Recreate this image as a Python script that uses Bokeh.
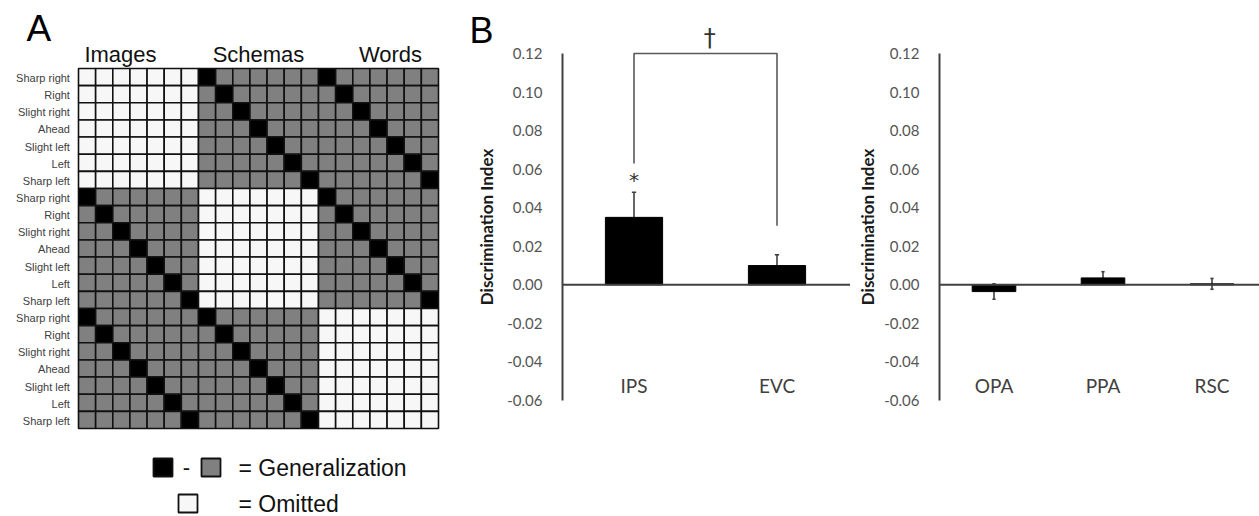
import numpy as np
from bokeh.plotting import figure
from bokeh.models import Range1d, LinearAxis, FixedTicker, PrintfTickFormatter, ColumnDataSource
from bokeh.layouts import row
from bokeh.core.properties import value
from bokeh.embed import file_html
from bokeh.resources import INLINE

# ---------------- data ----------------
formats = ["Images", "Schemas", "Words"]
directions = ["Sharp right", "Right", "Slight right", "Ahead", "Slight left", "Left", "Sharp left"]
legend_labels = ["= Generalization", "= Omitted"]

left_regions = ["IPS", "EVC"]
left_means = [0.035, 0.010]
left_sem = [0.013, 0.0056]

right_regions = ["OPA", "PPA", "RSC"]
right_means = [-0.0035, 0.0036, 0.0005]
right_sem = [0.0040, 0.0032, 0.0028]

y_ticks = [-0.06, -0.04, -0.02, 0.00, 0.02, 0.04, 0.06, 0.08, 0.10, 0.12]
sig_star = "*"
sig_trend = "\u2020"
y_label = "Discrimination Index"

H = 516

# ---------------- panel A : design matrix ----------------
ARIAL = value("Liberation Sans")
nd = len(directions)
n = len(formats) * nd
W_A = 460
cs = 360 / n                 # pixel size of a matrix cell
ox, oy = 78, 68              # matrix top-left in pixels


def px(xp):
    return (xp - ox) / cs


def py(yp):
    return (yp - oy) / cs


pA = figure(width=W_A, height=H, x_range=Range1d(px(0), px(W_A)), y_range=Range1d(py(H), py(0)),
            output_backend="svg", toolbar_location=None, min_border=0,
            x_axis_location=None, y_axis_location=None, outline_line_color=None)
pA.grid.visible = False

left, right, top, bottom, colors = [], [], [], [], []
for r in range(n):
    fr, dr = divmod(r, nd)
    for c in range(n):
        fc, dc = divmod(c, nd)
        if fr == fc:
            col = "#f7f7f7"
        elif dr == dc:
            col = "#000000"
        else:
            col = "#808080"
        left.append(c); right.append(c + 1); top.append(r); bottom.append(r + 1); colors.append(col)
pA.quad(left=left, right=right, top=top, bottom=bottom, fill_color=colors,
        line_color="#111111", line_width=1.6)

row_labels = directions * len(formats)
pA.text(x=[-0.5] * n, y=[i + 0.55 for i in range(n)], text=row_labels,
        text_font=ARIAL, text_font_size="11px", text_align="right", text_baseline="middle",
        text_color="#404040")

header_x = [2.45, 10.5, 18.2]
pA.text(x=header_x, y=[py(54)] * 3, text=formats, text_font=ARIAL, text_font_size="22px",
        text_align="center", text_baseline="alphabetic", text_color="#111111")

pA.text(x=[px(26)], y=[py(28)], text=["A"], text_font=ARIAL, text_font_size="37px",
        text_align="left", text_baseline="alphabetic", text_color="#000000")

pA.quad(left=[px(153), px(201), px(178)], right=[px(172), px(220), px(197)],
        top=[py(458), py(458), py(494)], bottom=[py(476), py(476), py(512)],
        fill_color=["#000000", "#808080", "#f7f7f7"], line_color="#111111", line_width=1.8)
pA.text(x=[px(186)], y=[py(467)], text=["-"], text_font=ARIAL, text_font_size="22px",
        text_align="center", text_baseline="middle", text_color="#111111")
pA.text(x=[px(238), px(238)], y=[py(467), py(503)], text=legend_labels, text_font=ARIAL,
        text_font_size="23px", text_align="left", text_baseline="middle", text_color="#111111")

# ---------------- panel B : bar charts ----------------
LATO = "Lato"
AX_COL = "#404040"
Y_TOP_PX, Y_BOT_PX = 53, 400
K = (Y_BOT_PX - Y_TOP_PX) / (max(y_ticks) - min(y_ticks))   # pixels per unit


def bar_panel(regions, means, sems, width, axis_px, unit_px, label_standoff):
    ymin, ymax = min(y_ticks), max(y_ticks)
    p = figure(width=width, height=H,
               x_range=Range1d(-axis_px / unit_px, (width - axis_px) / unit_px),
               y_range=Range1d(ymin - (H - Y_BOT_PX) / K, ymax + Y_TOP_PX / K),
               output_backend="svg", toolbar_location=None, min_border=0,
               x_axis_location=None, y_axis_location=None, outline_line_color=None)
    p.grid.visible = False
    ax = LinearAxis(fixed_location=0, bounds=(ymin, ymax))
    ax.ticker = FixedTicker(ticks=y_ticks)
    ax.formatter = PrintfTickFormatter(format="%.2f")
    ax.major_tick_line_color = None
    ax.minor_tick_line_color = None
    ax.major_tick_out = 0
    ax.major_tick_in = 0
    ax.major_label_standoff = 20
    ax.major_label_text_font = LATO
    ax.major_label_text_font_size = "15px"
    ax.major_label_text_color = "#555555"
    ax.axis_line_color = AX_COL
    ax.axis_line_width = 2
    ax.axis_label = y_label
    ax.axis_label_text_font = LATO
    ax.axis_label_text_font_style = "bold"
    ax.axis_label_text_font_size = "17px"
    ax.axis_label_text_color = "#1a1a1a"
    ax.axis_label_standoff = label_standoff
    p.add_layout(ax, "left")

    xs = [i + 0.5 for i in range(len(regions))]
    lo = [m - s for m, s in zip(means, sems)]
    hi = [m + s for m, s in zip(means, sems)]
    src = ColumnDataSource(dict(x=xs, m=means, lo=lo, hi=hi,
                                cl=[x - 0.015 for x in xs], cr=[x + 0.015 for x in xs], lab=regions))
    p.segment(x0="x", y0="lo", x1="x", y1="hi", source=src, line_color=AX_COL, line_width=1.6)
    p.segment(x0="cl", y0="hi", x1="cr", y1="hi", source=src, line_color=AX_COL, line_width=1.6)
    p.segment(x0="cl", y0="lo", x1="cr", y1="lo", source=src, line_color=AX_COL, line_width=1.6)
    p.vbar(x="x", top="m", bottom=0, width=0.4, source=src, fill_color="#000000", line_color="#000000")
    p.segment(x0=[0], y0=[0], x1=[len(regions) + 0.5], y1=[0], line_color=AX_COL, line_width=2)
    p.text(x="x", y=-0.052, text="lab", source=src, text_font=value(LATO), text_font_size="19px",
           text_align="center", text_baseline="middle", text_color="#404040")
    return p, xs, hi


pB1, xs1, hi1 = bar_panel(left_regions, left_means, left_sem, 390, 102, 143, 7)
pB1.x_range.end = 2.0 + 2 / 143
pB2, xs2, hi2 = bar_panel(right_regions, right_means, right_sem, 409, 89, 109, 3)

# significance bracket between IPS and EVC
gap = 0.015
top_y = max(y_ticks)
pB1.line(x=[xs1[0], xs1[0], xs1[1], xs1[1]], y=[hi1[0] + gap, top_y, top_y, hi1[1] + gap],
         line_color="#595959", line_width=1.6)
pB1.text(x=[xs1[0]], y=[hi1[0] + 0.0065], text=[sig_star], text_font=value("DejaVu Sans"),
         text_font_size="20px", text_align="center", text_baseline="alphabetic", text_color="#333333")
pB1.text(x=[(xs1[0] + xs1[1]) / 2 + 0.03], y=[top_y + 0.001], text=[sig_trend],
         text_font=value("DejaVu Sans"), text_font_size="24px", text_align="center",
         text_baseline="bottom", text_color="#333333")
pB1.text(x=[-93 / 143], y=[top_y + 23 / K], text=["B"], text_font=ARIAL,
         text_font_size="36px", text_align="left", text_baseline="alphabetic", text_color="#000000")

layout = row(pA, pB1, pB2)
open("out.html", "w").write(file_html(layout, INLINE))
